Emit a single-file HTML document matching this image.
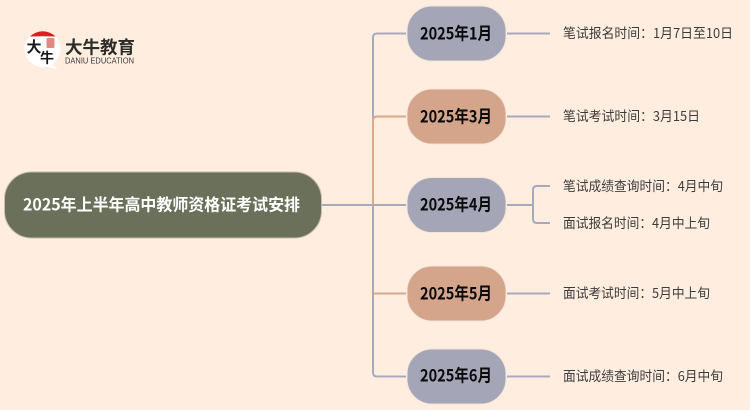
<!DOCTYPE html>
<html lang="zh"><head><meta charset="utf-8"><style>
html,body{margin:0;padding:0;background:#ffeee0;width:750px;height:410px;overflow:hidden}
svg{display:block}
text{font-family:"Liberation Sans","Noto Sans CJK SC",sans-serif}
.n{font-family:"Noto Sans CJK SC","Liberation Sans",sans-serif;font-weight:700;font-size:17px;fill:#0a0a0a}
.l{font-family:"Noto Sans CJK SC","Liberation Sans",sans-serif;font-size:13.500px;fill:#3c3c3c}
</style></head><body>
<svg width="750" height="410" viewBox="0 0 750 410" xmlns="http://www.w3.org/2000/svg">
<rect width="750" height="410" fill="#ffeee0"/>
<g fill="none" stroke-width="2">
<path d="M322 205H406" stroke="#a9a9bd"/>
<path d="M406 33.500H377Q373 33.500 373 37.500V372.500Q373 376.500 377 376.500H406" stroke="#a9a9bd"/>
<path d="M406 116.500H377Q373 116.500 373 120.500V205" stroke="#d9a88c"/>
<path d="M373 293.500H406" stroke="#d9a88c"/>
<path d="M507 33.500H550M507 116.500H550M507 293.500H550M507 376.500H550M507 205H532" stroke="#a9a9bd"/>
<path d="M550 186H537Q533 186 533 190V219Q533 223 537 223H550" stroke="#a9a9bd"/>
</g>
<rect x="4.500" y="172" width="317" height="66" rx="27" fill="#6a7059" stroke="#c9bda6" stroke-width="1"/>
<g stroke="#f3e3d6" stroke-width="1">
<rect x="407" y="6" width="99" height="55" rx="25" fill="#a5a5b8"/>
<rect x="407" y="89" width="99" height="55" rx="25" fill="#d4a58a"/>
<rect x="407" y="177.500" width="99" height="55" rx="25" fill="#a5a5b8"/>
<rect x="407" y="266" width="99" height="55" rx="25" fill="#d4a58a"/>
<rect x="407" y="349" width="99" height="55" rx="25" fill="#a5a5b8"/>
</g>
<text x="23" y="210.500" textLength="277" lengthAdjust="spacingAndGlyphs" style="font-family:'Noto Sans CJK SC','Liberation Sans',sans-serif;font-weight:700;font-size:16.500px;fill:#fff">2025年上半年高中教师资格证考试安排</text>
<text class="n" x="420" y="39.500" textLength="72" lengthAdjust="spacingAndGlyphs">2025年1月</text>
<text class="n" x="420" y="122.500" textLength="72" lengthAdjust="spacingAndGlyphs">2025年3月</text>
<text class="n" x="420" y="210.500" textLength="72" lengthAdjust="spacingAndGlyphs">2025年4月</text>
<text class="n" x="420" y="299.500" textLength="72" lengthAdjust="spacingAndGlyphs">2025年5月</text>
<text class="n" x="420" y="381.500" textLength="72" lengthAdjust="spacingAndGlyphs">2025年6月</text>
<text class="l" x="563" y="38" textLength="170" lengthAdjust="spacingAndGlyphs">笔试报名时间：1月7日至10日</text>
<text class="l" x="563" y="121" textLength="137" lengthAdjust="spacingAndGlyphs">笔试考试时间：3月15日</text>
<text class="l" x="563" y="191" textLength="160" lengthAdjust="spacingAndGlyphs">笔试成绩查询时间：4月中旬</text>
<text class="l" x="563" y="228" textLength="147" lengthAdjust="spacingAndGlyphs">面试报名时间：4月中上旬</text>
<text class="l" x="563" y="298" textLength="147" lengthAdjust="spacingAndGlyphs">面试考试时间：5月中上旬</text>
<text class="l" x="563" y="381" textLength="160" lengthAdjust="spacingAndGlyphs">面试成绩查询时间：6月中旬</text>
<!-- logo -->
<circle cx="42.500" cy="49" r="18" fill="#fff"/>
<path d="M48 62L58 69 42 66Z" fill="#fff"/>
<path d="M30 36.500A18 18 0 0 1 55.500 36.500Q43 36 30 36.500Z" fill="#d8201f"/>
<rect x="46.500" y="38" width="8" height="10" rx="1" fill="#e08a80"/>
<text x="34" y="52" text-anchor="middle" style="font-family:'Noto Sans CJK SC',sans-serif;font-size:15px;font-weight:700;fill:#1a1a1a">大</text>
<text x="47" y="63" text-anchor="middle" style="font-family:'Noto Sans CJK SC',sans-serif;font-size:14px;font-weight:700;fill:#1a1a1a">牛</text>
<text x="65" y="53.500" style="font-family:'Noto Sans CJK SC',sans-serif;font-size:17.500px;font-weight:700;fill:#2c2c2c">大牛教育</text>
<text x="65" y="63.500" textLength="69" lengthAdjust="spacingAndGlyphs" style="font-family:'Liberation Sans',sans-serif;font-size:8px;fill:#3a3a3a">DANIU EDUCATION</text>
</svg>
</body></html>
